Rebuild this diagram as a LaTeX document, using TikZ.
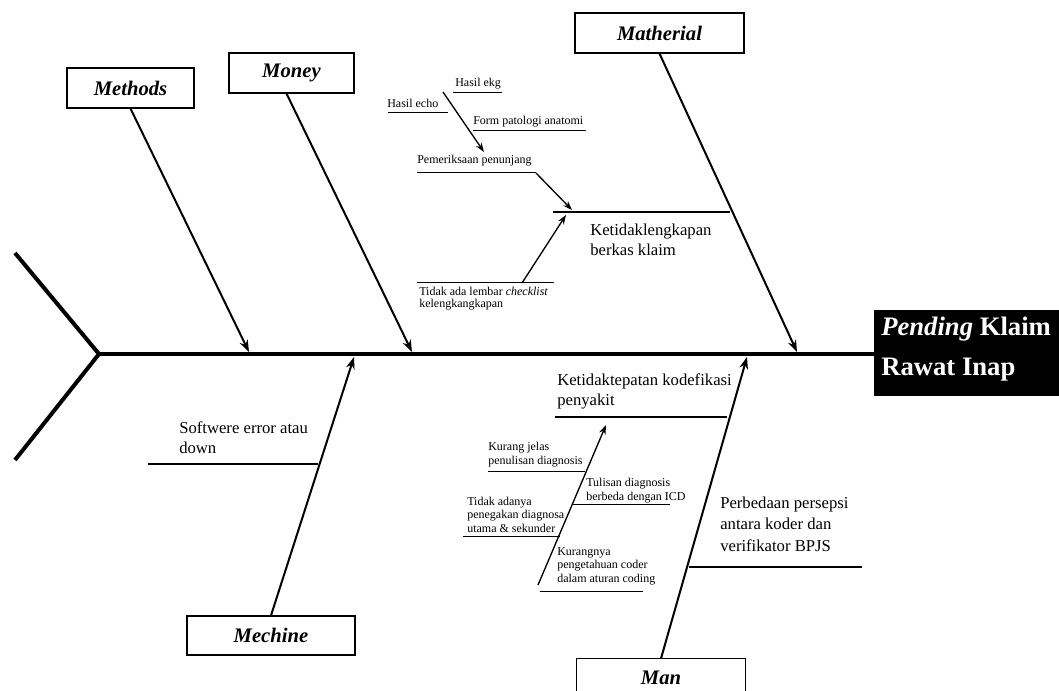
\documentclass[tikz,border=0pt]{standalone}
\usepackage{fontspec}
\setmainfont{Liberation Serif}
\usetikzlibrary{arrows.meta,calc}
\begin{document}
\begin{tikzpicture}[x=0.75pt,y=-0.75pt,
  catbox/.style={draw,line width=0.8pt,inner sep=0,font=\fontsize{15.5}{18}\selectfont\bfseries\itshape},
  bigtxt/.style={inner sep=0,anchor=base west,align=left,font=\fontsize{12.5}{15}\selectfont},
  smalltxt/.style={inner sep=0,anchor=base west,align=left,font=\fontsize{9}{10}\selectfont},
  spine/.style={line width=3pt},
  bone/.style={line width=1.5pt,-{Stealth[length=9pt,width=6.5pt]}},
  midline/.style={line width=1.7pt},
  thinline/.style={line width=0.75pt},
  subarrow/.style={line width=1pt,-{Stealth[length=7pt,width=5pt]}}
]
\clip (0,0) rectangle (1059,691);

% effect (head)
\node[fill=black,anchor=west,minimum height=64.5pt,minimum width=150pt,inner sep=0]
      (effect) at (874,353) {};
\node[text=white,anchor=base west,inner sep=0,align=left,font=\fontsize{20}{30}\selectfont\bfseries]
      (effecttxt) at (881,375) {\textit{Pending} Klaim\\Rawat Inap};

% spine and tail
\coordinate (tail) at (99,354);
\coordinate (ft) at (15,253);
\coordinate (fb) at (15,460);
\draw[spine] (ft) -- (tail) -- (fb);
\draw[spine] (tail) -- (tail -| effect.west);

% category boxes
\node[catbox,minimum width=95.25pt,minimum height=30pt] (methods) at (130.5,88) {Methods};
\node[catbox,minimum width=93.75pt,minimum height=30pt] (money) at (291.5,73) {Money};
\node[catbox,minimum width=126.75pt,minimum height=30pt] (matherial) at (659.5,33) {Matherial};
\node[catbox,minimum width=126pt,minimum height=29.25pt] (mechine) at (271,635.5) {Mechine};
\node[catbox,draw=none,minimum width=126pt,minimum height=28.5pt] (man) at (661,678) {Man};
\draw[line width=0.8pt] (man.north west) rectangle ($(man.north east)+(0,70)$);

% main bones
\coordinate (pMethods) at (249,352);
\coordinate (pMoney) at (412,352);
\coordinate (pMatherial) at (797,352);
\coordinate (pMechine) at (354,357);
\coordinate (pMan) at (747,357);
\draw[bone] (methods.south) -- (pMethods);
\draw[bone] ($(money.south)+(-5,0)$) -- (pMoney);
\draw[bone] (matherial.south) -- (pMatherial);
\draw[bone] (mechine.north) -- (pMechine);
\draw[bone] (man.north) -- (pMan);

% ---- Matherial: Ketidaklengkapan berkas klaim
\coordinate (kb1) at (553,212);
\coordinate (kb2) at (730,212);
\draw[midline] (kb1) -- (kb2);
\node[bigtxt,font=\fontsize{12.5}{15.5}\selectfont] (kbtxt) at (590,256) {Ketidaklengkapan\\berkas klaim};

\coordinate (pp1) at (417,173);
\coordinate (pp2) at (536,173);
\coordinate (ppTip) at (572,210);
\draw[thinline] (pp1) -- (pp2);
\draw[subarrow] (pp2) -- (ppTip);
\node[smalltxt] (pptxt) at (417,164) {Pemeriksaan penunjang};

\coordinate (ekg1) at (453,93);
\coordinate (ekg2) at (502,93);
\draw[thinline] (ekg1) -- (ekg2);
\node[smalltxt] (ekgtxt) at (455,87) {Hasil ekg};

\coordinate (echo1) at (388,113);
\coordinate (echo2) at (448,113);
\draw[thinline] (echo1) -- (echo2);
\node[smalltxt] (echotxt) at (387,108) {Hasil echo};

\coordinate (fpa1) at (473,131);
\coordinate (fpa2) at (586,131);
\draw[thinline] (fpa1) -- (fpa2);
\node[smalltxt] (fpatxt) at (473,125) {Form patologi anatomi};

\coordinate (hs1) at (443,92);
\coordinate (hsTip) at (484,152);
\draw[subarrow] (hs1) -- (hsTip);

\coordinate (cl1) at (417,283);
\coordinate (cl2) at (554,283);
\coordinate (clJ) at (522,283);
\coordinate (clTip) at (566,215);
\draw[thinline] (cl1) -- (cl2);
\draw[subarrow] (clJ) -- (clTip);
\node[smalltxt,font=\fontsize{9}{9.5}\selectfont] (cltxt) at (419,308) {Tidak ada lembar \textit{checklist}\\kelengkangkapan};

% ---- Man: Ketidaktepatan kodefikasi penyakit
\coordinate (kt1) at (555,417);
\coordinate (kt2) at (727,417);
\draw[midline] (kt1) -- (kt2);
\node[bigtxt] (kttxt) at (557,405) {Ketidaktepatan kodefikasi\\penyakit};

\coordinate (dg1) at (538,585);
\coordinate (dgTip) at (606,425);
\draw[subarrow] (dg1) -- (dgTip);

\coordinate (kj1) at (488,471);
\coordinate (kj2) at (585,471);
\draw[thinline] (kj1) -- (kj2);
\node[smalltxt] (kjtxt) at (488,464) {Kurang jelas\\penulisan diagnosis};

\coordinate (td1) at (572,504);
\coordinate (td2) at (670,504);
\draw[thinline] (td1) -- (td2);
\node[smalltxt] (tdtxt) at (586,500) {Tulisan diagnosis\\berbeda dengan ICD};

\coordinate (ta1) at (463,536);
\coordinate (ta2) at (560,536);
\draw[thinline] (ta1) -- (ta2);
\node[smalltxt] (tatxt) at (467,532) {Tidak adanya\\penegakan diagnosa\\utama \& sekunder};

\coordinate (kp1) at (540,591);
\coordinate (kp2) at (643,591);
\draw[thinline] (kp1) -- (kp2);
\node[smalltxt] (kptxt) at (557,582) {Kurangnya\\pengetahuan coder\\dalam aturan coding};

\coordinate (pb1) at (689,567);
\coordinate (pb2) at (862,567);
\draw[midline] (pb1) -- (pb2);
\node[bigtxt,font=\fontsize{12.5}{16}\selectfont] (pbtxt) at (720,551) {Perbedaan persepsi\\antara koder dan\\verifikator BPJS};

% ---- Mechine
\coordinate (sw1) at (148,464);
\coordinate (sw2) at (318,464);
\draw[midline] (sw1) -- (sw2);
\node[bigtxt,font=\fontsize{12.5}{14.5}\selectfont] (swtxt) at (179,453) {Softwere error atau\\down};

\end{tikzpicture}
\end{document}
